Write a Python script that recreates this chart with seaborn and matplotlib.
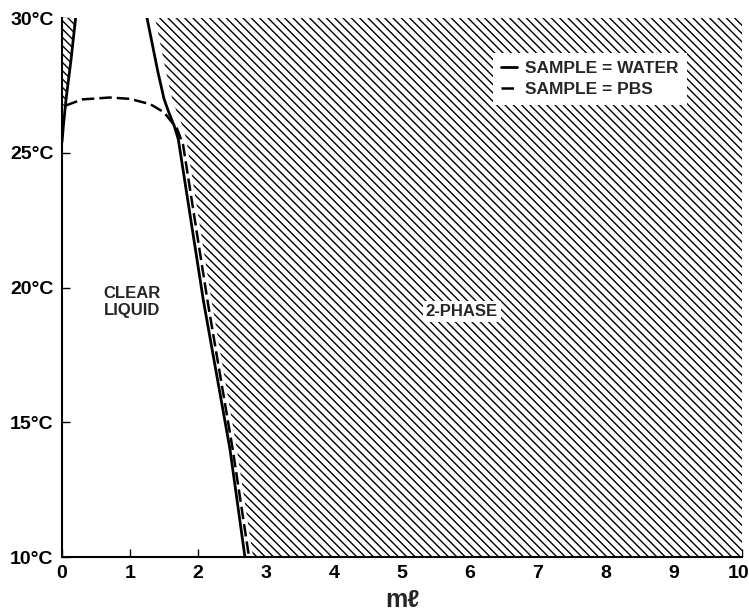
import numpy as np
import matplotlib.pyplot as plt
import matplotlib.transforms as mtransforms
import seaborn as sns

# water sample boundary (solid), main branch
water_y = [10, 14, 19.5, 25.5, 26, 26.5, 27, 28, 29, 30]
water_x = [2.69, 2.47, 2.08, 1.71, 1.65, 1.57, 1.50, 1.41, 1.33, 1.25]

# water sample, small branch near 0 ml
water_left_y = [25.4, 26.0, 27.0, 28.4, 30]
water_left_x = [0.0, 0.02, 0.06, 0.13, 0.2]

# PBS sample boundary (dashed)
pbs_x = [0.05, 0.3, 0.7, 1.0, 1.3, 1.5, 1.69, 1.78, 2.14, 2.51, 2.75]
pbs_y = [26.75, 26.98, 27.05, 27.0, 26.8, 26.5, 25.9, 25.3, 19.5, 14, 10]

x_ticks = list(range(0, 11))
y_ticks = [10, 15, 20, 25, 30]
y_ticklabels = ['10°C', '15°C', '20°C', '25°C', '30°C']

sns.set_theme(style='ticks')
plt.rcParams['font.family'] = ['Liberation Sans Narrow', 'Liberation Sans', 'DejaVu Sans']
plt.rcParams['font.weight'] = 'bold'
plt.rcParams['hatch.linewidth'] = 1.0

HATCH = chr(92) * 4  # backslashes -> dense diagonal hatching

fig = plt.figure(figsize=(7.49, 6.15), dpi=100)
ax = fig.add_axes([0.0828, 0.0943, 0.9079, 0.8764])

# 2-phase region: right of the PBS curve (below the crossing), right of water curve above
gap = 0.06
low_y = [y for y in pbs_y if y <= 25.3][::-1]
low_x = [x + gap for x, y in zip(pbs_x, pbs_y) if y <= 25.3][::-1]
up_y = [y for y in water_y if y >= 25.5]
up_x = [x + 0.12 for x, y in zip(water_x, water_y) if y >= 25.5]
hatch_y = np.array(low_y + up_y)
hatch_x = np.array(low_x + up_x)
ax.fill_betweenx(hatch_y, hatch_x, 10, facecolor='white', edgecolor='black',
                 hatch=HATCH, linewidth=0, zorder=1)

# small 2-phase sliver at the left edge
sl_y = np.array([pbs_y[0]] + [y for y in water_left_y if y > pbs_y[0]])
sl_x = np.interp(sl_y, water_left_y, water_left_x)
ax.fill_betweenx(sl_y, 0, sl_x, facecolor='white', edgecolor='black',
                 hatch=HATCH, linewidth=0, zorder=1)

sns.lineplot(x=water_x, y=water_y, sort=False, estimator=None, color='black',
             lw=2.0, ax=ax, label='SAMPLE = WATER', zorder=3)
sns.lineplot(x=water_left_x, y=water_left_y, sort=False, estimator=None, color='black',
             lw=2.0, ax=ax, zorder=3)
sns.lineplot(x=pbs_x, y=pbs_y, sort=False, estimator=None, color='black',
             lw=1.8, linestyle=(0, (5, 2)), ax=ax, label='SAMPLE = PBS', zorder=3)

ax.text(1.03, 19.45, 'CLEAR\nLIQUID', ha='center', va='center', fontsize=12,
        fontweight='bold', linespacing=1.15, zorder=4)
ax.text(5.88, 19.1, '2-PHASE', ha='center', va='center', fontsize=12,
        fontweight='bold', zorder=4,
        bbox=dict(facecolor='white', edgecolor='none', pad=2))

leg = ax.legend(loc='upper left', bbox_to_anchor=(0.634, 0.935), borderaxespad=0,
                frameon=True, facecolor='white', edgecolor='none', framealpha=1,
                fancybox=False, handlelength=0.9, handletextpad=0.5, borderpad=0.45,
                labelspacing=0.35, prop={'weight': 'bold', 'size': 12.5})
leg.set_zorder(5)

ax.set_xlim(0, 10)
ax.set_ylim(10, 30)
ax.set_xticks(x_ticks)
ax.set_yticks(y_ticks)
ax.set_yticklabels(y_ticklabels)
ax.tick_params(direction='in', length=6, width=1, labelsize=14, pad=6, colors='black')
ax.set_xlabel('mℓ', fontsize=18, fontweight='bold', labelpad=4)
ax.set_facecolor('white')
for side in ['top', 'right']:
    ax.spines[side].set_visible(False)
for side in ['left', 'bottom']:
    ax.spines[side].set_color('black')
    ax.spines[side].set_linewidth(1.5)

# keep the last x tick label inside the figure
last = ax.get_xticklabels()[-1]
last.set_ha('right')
last.set_transform(last.get_transform() + mtransforms.ScaledTranslation(7 / 100, 0, fig.dpi_scale_trans))

plt.savefig('out.png', dpi=100)
